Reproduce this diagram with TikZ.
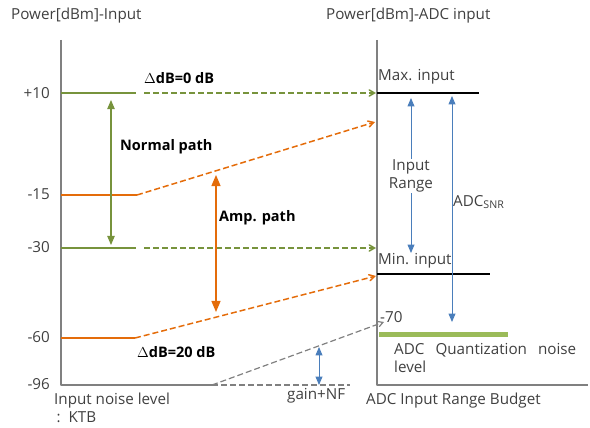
\documentclass[tikz,border=0pt]{standalone}
\usepackage{fontspec}
\setmainfont{Open Sans}
\usetikzlibrary{arrows}
\definecolor{pathgreen}{RGB}{119,147,60}
\definecolor{pathorange}{RGB}{228,108,10}
\definecolor{rangeblue}{RGB}{74,126,187}
\definecolor{axisgray}{RGB}{128,128,128}
\definecolor{bargreen}{RGB}{155,187,89}
\definecolor{txtgray}{RGB}{64,64,64}

\begin{document}
\begin{tikzpicture}[line cap=butt,line join=round,>=triangle 45,x=1pt,y=-1pt,
  font=\fontsize{15.2}{18}\selectfont,
  lbl/.style={anchor=west,inner sep=0pt,text=txtgray},
  bold/.style={anchor=west,inner sep=0pt,font=\fontsize{14.5}{17}\selectfont\bfseries},
  level/.style={line width=1.5pt},
  feed/.style={line width=1.5pt,dashed,dash pattern=on 6pt off 3pt,-angle 60}]
	\useasboundingbox (0,0) rectangle (590,428);
	% axes
	\draw[axisgray,line width=1.4pt] (61,40) -- (61,385) -- (212,385);
	\draw[axisgray,line width=1.4pt] (377,40) -- (377,385) -- (588,385);
	\draw[axisgray,line width=1.2pt,dashed,dash pattern=on 6pt off 3pt] (212,385) -- (350,385);
	\foreach \y/\t in {93/+10,194/-15,247/-30,337/-60,384/-96}
	\node[lbl,anchor=east] at (50,\y) {\t};
	\node[lbl] at (11,16) {Power[dBm]-Input};
	\node[lbl] at (326,16) {Power[dBm]-ADC input};
	\node[lbl,anchor=north west,align=left] at (54,393) {Input noise level\\\,:\ \ KTB};
	\node[lbl] at (366,401) {ADC Input Range Budget};
	% input levels
	\draw[pathgreen,level] (61,93) -- (136,93);
	\draw[pathgreen,feed] (144,93) -- (376,93);
	\draw[pathgreen,level] (61,248) -- (136,248);
	\draw[pathgreen,feed] (144,248) -- (376,248);
	\draw[pathorange,level] (61,195) -- (137,195);
	\draw[pathorange,feed] (137,195) -- (375,122);
	\draw[pathorange,level] (61,338) -- (135,338);
	\draw[pathorange,feed] (135,338) -- (376,276);
	\draw[axisgray,feed,line width=1.2pt] (212,385) -- (384,322);
	% paths
	\draw[pathgreen,line width=1.1pt,<->] (111,100) -- (111,245);
	\draw[pathorange,line width=1.6pt,<->] (216,175) -- (216,312);
	\node[bold] at (120,147) {Normal path};
	\node[bold] at (219,218) {Amp. path};
	\node[bold] at (144,78) {$\Delta$dB=0 dB};
	\node[bold] at (137,352) {$\Delta$dB=20 dB};
	% ADC side
	\draw[black,line width=1.4pt] (377,93) -- (479,93);
	\draw[black,line width=1.2pt] (377,274) -- (490,274);
	\node[lbl] at (378,77) {Max. input};
	\node[lbl] at (378,261) {Min. input};
	\node[lbl] at (380,317) {-70};
	\draw[bargreen,line width=5pt] (379,334) -- (508,334);
	\node[lbl,anchor=north west,text width=182pt,align=left] at (394,343) {ADC\hfill Quantization\hfill noise\\level};
	\node[text=txtgray,align=center,inner sep=1pt] (inrange) at (411,176) {Input\\Range};
	\draw[rangeblue,line width=0.9pt,->] (inrange.north) -- (411,98);
	\draw[rangeblue,line width=0.9pt,->] (inrange.south) -- (411,253);
	\draw[rangeblue,line width=0.9pt,<->] (452,96) -- (452,322);
	\node[lbl] at (453,202) {ADC\textsubscript{SNR}};
	\draw[rangeblue,line width=0.9pt,<->] (319,347) -- (319,385);
	\node[lbl] at (287,396) {gain+NF};
\end{tikzpicture}
\end{document}
